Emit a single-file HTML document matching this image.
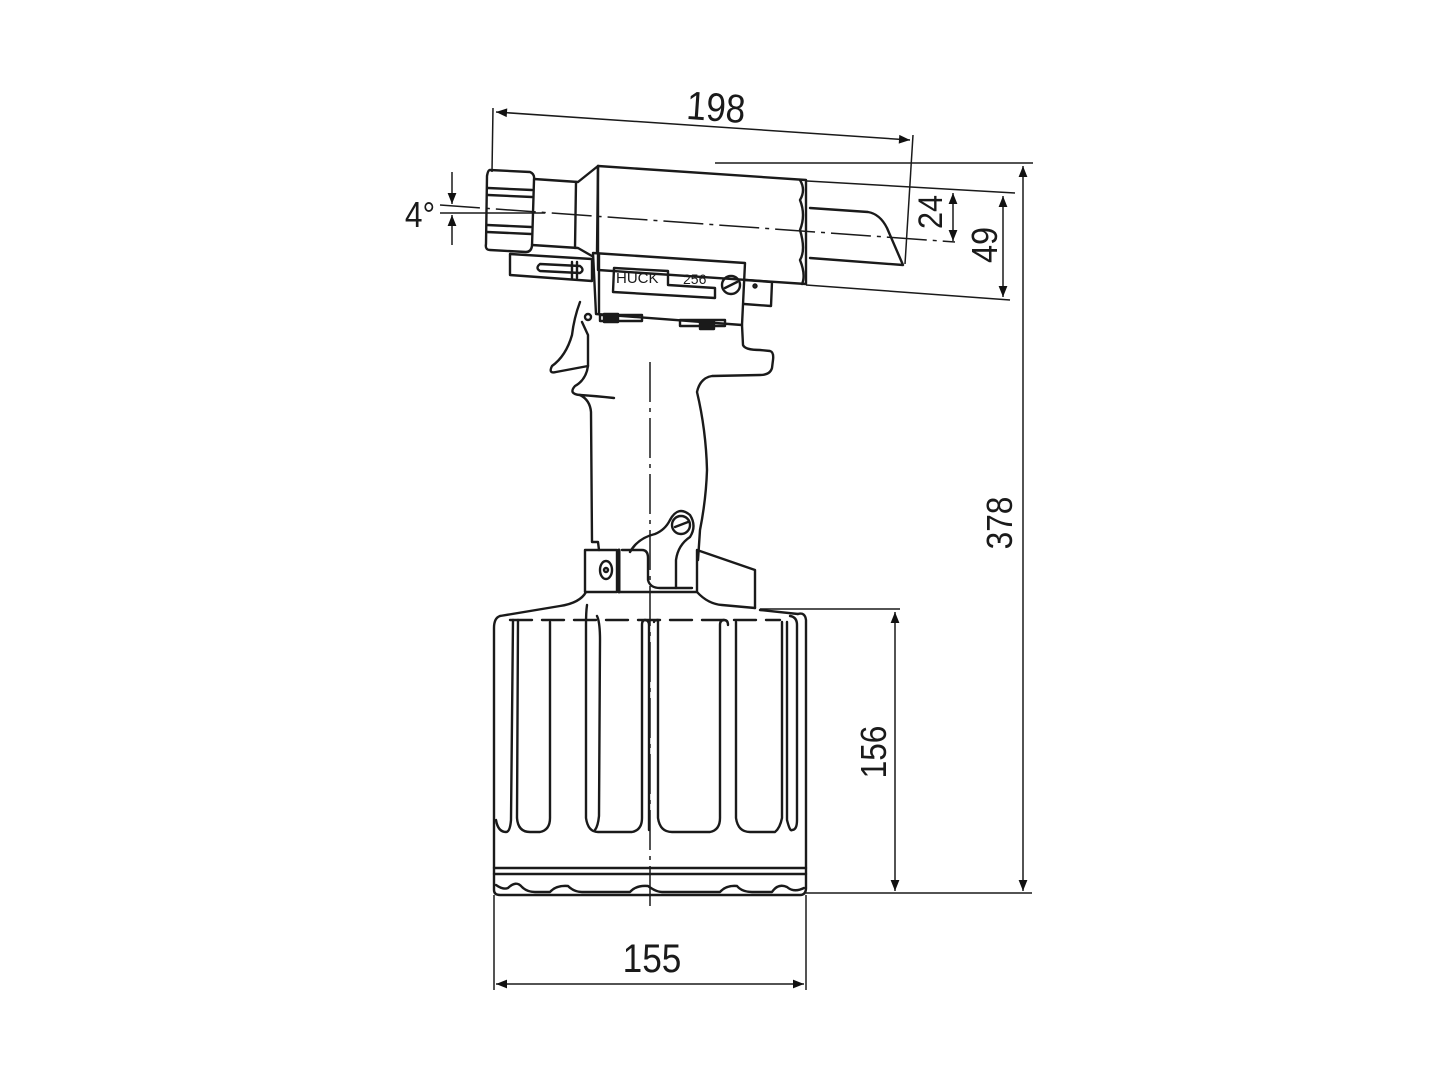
<!DOCTYPE html>
<html><head><meta charset="utf-8"><style>html,body{margin:0;padding:0;background:#fff}svg{display:block}</style></head>
<body>
<svg width="1440" height="1080" viewBox="0 0 1440 1080" xmlns="http://www.w3.org/2000/svg" font-family="Liberation Sans, sans-serif">
<defs>
<marker id="a" viewBox="0 0 10 10" refX="10" refY="5" markerWidth="18" markerHeight="11" orient="auto-start-reverse" markerUnits="userSpaceOnUse"><path d="M0,1 L10,5 L0,9 z" fill="#111"/></marker>
</defs>
<g fill="none" stroke="#1a1a1a" stroke-width="1.5">
<line x1="493" y1="108" x2="492" y2="172"/>
<line x1="913" y1="135" x2="905" y2="264"/>
<line x1="496" y1="112" x2="910" y2="140" marker-start="url(#a)" marker-end="url(#a)"/>
<line x1="440" y1="213" x2="545" y2="213"/>
<line x1="452" y1="172" x2="452" y2="204" marker-end="url(#a)"/>
<line x1="452" y1="245" x2="452" y2="215" marker-end="url(#a)"/>
<line x1="440" y1="205" x2="955" y2="242" stroke-dasharray="40,6,4,6"/>
<line x1="715" y1="163" x2="1033" y2="163"/>
<line x1="807" y1="181" x2="1015" y2="193"/>
<line x1="806" y1="285" x2="1010" y2="300"/>
<line x1="953" y1="193" x2="953" y2="241" marker-start="url(#a)" marker-end="url(#a)"/>
<line x1="1003" y1="196" x2="1003" y2="297" marker-start="url(#a)" marker-end="url(#a)"/>
<line x1="1023" y1="166" x2="1023" y2="891" marker-start="url(#a)" marker-end="url(#a)"/>
<line x1="760" y1="609" x2="900" y2="609"/>
<line x1="806" y1="893" x2="1032" y2="893"/>
<line x1="895" y1="612" x2="895" y2="891" marker-start="url(#a)" marker-end="url(#a)"/>
<line x1="494" y1="895" x2="494" y2="990"/>
<line x1="806" y1="895" x2="806" y2="990"/>
<line x1="496" y1="984" x2="804" y2="984" marker-start="url(#a)" marker-end="url(#a)"/>
<line x1="650" y1="362" x2="650" y2="912" stroke-dasharray="40,6,4,6"/>
</g>
<g fill="none" stroke="#1a1a1a" stroke-width="2.4" stroke-linejoin="round" stroke-linecap="round">
<path d="M490,170 L530,172 Q535,174 534,180 L532,246 Q531,252 526,252 L490,250 Q485,250 486,244 L487,176 Q488,170 490,170 Z"/>
<line x1="488" y1="188" x2="532" y2="190"/><line x1="488" y1="195" x2="532" y2="197"/>
<line x1="487" y1="225" x2="531" y2="227"/><line x1="487" y1="232" x2="531" y2="234"/>
<path d="M534,179 L578,182 L598,166 M532,245 L578,248 L592,256"/>
<line x1="576" y1="182" x2="575" y2="248"/>
<path d="M598,166 L806,180 L806,284 L598,270 Z"/>
<line x1="598" y1="166" x2="597" y2="252"/>
<path d="M800,180 Q806,190 800,200 Q806,215 800,230 Q806,250 800,260 Q806,275 802,284"/>
<path d="M810,208 L868,212 Q880,214 887,228 L903,265 L810,258"/>
<path d="M510,254 L592,259 L592,281 L510,275 Z"/>
<path d="M540,264 L580,266 Q585,270 580,273 L540,271 Q535,268 540,264 Z"/>
<line x1="572" y1="262" x2="572" y2="278"/><line x1="577" y1="262" x2="577" y2="278"/>
<path d="M593,253 L745,263 L742,325 L596,314 Z"/>
<line x1="599" y1="254" x2="599" y2="314"/>
<path d="M614,268 L668,271 L668,285 L715,288 L715,298 L613,292 Z"/>
<circle cx="731" cy="285" r="9"/>
<line x1="725" y1="288" x2="737" y2="282"/>
<path d="M745,280 L772,282 L771,306 L744,304"/>
<circle cx="755" cy="286" r="1.5"/>
<rect x="600" y="315" width="42" height="6"/><rect x="680" y="320" width="45" height="6"/>
<rect x="604" y="314" width="14" height="8" fill="#1a1a1a"/><rect x="700" y="321" width="14" height="8" fill="#1a1a1a"/>
<path d="M580,302 Q574,318 572,335 Q566,356 552,366 Q548,374 556,372 L588,366 L588,335 L582,322"/>
<circle cx="588" cy="317" r="3"/>
<path d="M588,366 Q586,380 575,386 Q568,394 580,395 Q596,396 614,398"/>
<path d="M580,395 Q590,400 591,412 L592,542 L598,542 L599,550"/>
<path d="M742,325 L743,345 Q745,350 760,350 L770,351 Q774,352 773,360 L772,368 Q770,375 760,375 L712,376 Q700,378 697,392 Q706,430 707,470 Q706,500 700,530 L698,560"/>
<rect x="585" y="550" width="32" height="42"/>
<ellipse cx="606" cy="570" rx="6" ry="9"/><circle cx="606" cy="570" r="2"/>
<line x1="619" y1="550" x2="619" y2="592" stroke-width="3"/>
<path d="M622,550 L642,550 Q648,550 648,558 L648,580 Q650,588 660,588 L692,588"/>
<path d="M630,552 Q638,538 655,534 Q665,530 670,520 Q678,505 690,515 Q697,526 690,537 Q678,545 676,560 L676,588"/>
<circle cx="681" cy="525" r="9"/><line x1="675" y1="527" x2="688" y2="522"/>
<path d="M620,592 L697,592 L697,550 L755,570 L755,608"/>
<path d="M586,592 Q580,603 560,606 L500,616"/>
<path d="M697,592 Q708,604 722,605 L755,608 M760,610 L798,614"/>
<path d="M500,616 Q494,618 494,628 L494,890 Q494,895 500,895 L800,895 Q806,895 806,888 L806,620 Q805,612 798,614"/>
<line x1="494" y1="868" x2="806" y2="868"/>
<line x1="494" y1="874" x2="806" y2="874"/>
<line x1="510" y1="620" x2="780" y2="620" stroke-dasharray="22,10"/>
<path d="M513,620 L511,820 Q510,832 506,832 Q498,832 496,820"/>
<path d="M518,620 L517,818 Q518,832 530,832 L540,832 Q550,830 550,818 L550,622"/>
<path d="M587,605 Q586,612 586,625 L586,818 Q588,832 598,832 L632,832 Q642,830 642,818 L642,625 Q642,620 645,620 Q649,620 649,625 L649,830"/>
<path d="M597,616 Q600,622 600,640 L599,816 Q598,826 595,830"/>
<path d="M654,622 Q654,620 658,620 L658,818 Q660,832 672,832 L710,832 Q720,830 720,818 L720,625 Q720,620 724,620 Q728,620 728,625"/>
<path d="M736,622 L736,818 Q738,832 750,832 L775,832 Q780,828 782,818 L782,622"/>
<path d="M787,622 L787,820 Q790,832 792,830 Q797,830 797,820 L797,625 Q797,617 790,616"/>
<path d="M496,885 Q503,890 508,888 Q516,880 522,887 Q527,892 535,892 L550,892 Q556,885 568,886 Q574,892 582,892 L630,892 Q636,885 648,886 Q656,892 662,892 L720,892 Q726,885 737,886 Q742,892 752,892 L772,892 Q778,883 787,887 Q794,893 804,888"/>
</g>
<g fill="#1a1a1a" font-family="Liberation Sans, sans-serif">
<text x="716" y="121" font-size="40" text-anchor="middle" transform="rotate(4 716 108) translate(716 0) scale(0.88 1) translate(-716 0)">198</text>
<text x="420" y="227" font-size="36" text-anchor="middle" transform="translate(420 0) scale(0.88 1) translate(-420 0)">4°</text>
<text font-size="34" text-anchor="middle" transform="translate(942 212) rotate(-90) scale(0.9 1)" y="0">24</text>
<text font-size="36" text-anchor="middle" transform="translate(997 245) rotate(-90) scale(0.9 1)">49</text>
<text font-size="36" text-anchor="middle" transform="translate(1012 523) rotate(-90) scale(0.88 1)">378</text>
<text font-size="36" text-anchor="middle" transform="translate(886 752) rotate(-90) scale(0.88 1)">156</text>
<text x="652" y="972" font-size="40" text-anchor="middle" transform="translate(652 0) scale(0.88 1) translate(-652 0)">155</text>
<text x="616" y="283" font-size="15">HUCK</text>
<text x="683" y="284" font-size="14">256</text>
</g>
</svg>
</body></html>
